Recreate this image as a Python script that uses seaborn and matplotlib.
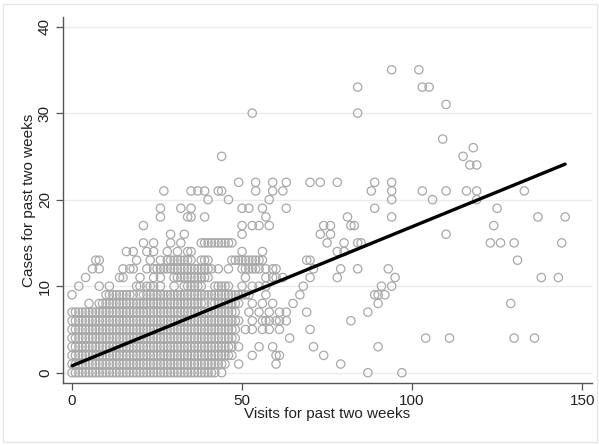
import matplotlib
matplotlib.use("Agg")
import matplotlib.pyplot as plt
import pandas as pd
import seaborn as sns
from matplotlib.patches import Rectangle

visits_c0 = [0,1,2,3,4,5,6,7,8,9,10,11,12,13,14,15,16,17,18,19,20,21,22,23,24,25,26,27,28,29,30,31,32,33,34,35,36,37,38,39,40,41,42,44,87,97]
visits_c1 = [0,1,2,3,4,5,6,7,8,9,10,11,12,13,14,15,16,17,18,19,20,21,22,23,24,25,26,27,28,29,30,31,32,33,34,35,36,37,38,39,40,41,42,43,44,45,49,60,79]
visits_c2 = [0,1,2,3,4,5,6,7,8,9,10,11,12,13,14,15,16,17,18,19,20,21,22,23,24,25,26,27,28,29,30,31,32,33,34,35,36,37,38,39,40,41,42,43,44,45,46,47,53,60,61,74]
visits_c3 = [0,1,2,3,4,5,6,7,8,9,10,11,12,13,14,15,16,17,18,19,20,21,22,23,24,25,26,27,28,29,30,31,32,33,34,35,36,37,38,39,40,41,42,43,44,45,46,47,49,55,59,71,90]
visits_c4 = [0,1,2,3,4,5,6,7,8,9,10,11,12,13,14,15,16,17,18,19,20,21,22,23,24,25,26,27,28,29,30,31,32,33,34,35,36,37,38,39,40,41,42,43,44,45,46,47,48,64,104,111,130,136]
visits_c5 = [0,1,2,3,4,5,6,7,8,9,10,11,12,13,14,15,16,17,18,19,20,21,22,23,24,25,26,27,28,29,30,31,32,33,34,35,36,37,38,39,40,41,42,43,44,45,46,47,48,51,53,56,58,61,70]
visits_c6 = [0,1,2,3,4,5,6,7,8,9,10,11,12,13,14,15,16,17,18,19,20,21,22,23,24,25,26,27,28,29,30,31,32,33,34,35,36,37,38,39,40,41,42,43,44,45,46,47,48,49,53,56,57,58,60,61,63,82]
visits_c7 = [0,1,2,3,4,5,6,7,8,9,10,11,12,13,14,15,16,17,18,19,20,21,22,23,24,25,26,27,28,29,30,31,32,33,34,35,36,37,38,39,40,41,42,43,44,45,46,47,48,52,55,58,61,63,69,87]
visits_c8 = [5,8,9,10,11,12,13,14,15,16,17,18,19,20,21,22,23,24,25,26,27,28,29,30,31,32,33,34,35,36,37,38,39,41,42,43,44,45,46,47,48,49,53,56,59,65,90,129]
visits_c9 = [0,10,11,12,13,14,15,16,17,18,20,21,22,23,24,25,26,27,28,29,30,31,32,33,34,35,36,37,38,39,40,41,42,43,44,45,46,47,48,49,50,51,52,57,67,89,90,92]
visits_c10 = [2,8,11,19,20,22,23,24,26,30,33,34,35,36,37,38,42,43,44,45,46,50,53,55,57,68,91,94]
visits_c11 = [4,14,15,20,24,26,30,31,32,33,34,35,36,37,38,39,40,51,57,59,60,62,70,78,95,138,143]
visits_c12 = [6,8,15,17,18,22,24,25,26,27,28,29,30,31,32,33,34,35,36,37,38,39,40,41,43,46,50,51,52,53,54,55,57,59,60,71,79,84,93]
visits_c13 = [7,8,19,23,26,28,29,30,31,32,33,34,35,38,39,40,47,48,49,50,51,52,53,54,55,56,69,70,131]
visits_c14 = [16,18,22,24,28,31,34,35,50,56,78,80]
visits_c15 = [21,24,29,32,38,39,40,41,42,43,44,45,46,47,75,80,84,85,123,126,130,144]
visits_c16 = [29,33,50,73,76,110]
visits_c17 = [21,50,53,55,58,74,76,82,83,124]
visits_c18 = [26,34,35,39,57,81,94,137,145]
visits_c19 = [26,32,35,50,52,56,63,89,125]
visits_c20 = [40,46,58,94,106,119]
visits_c21 = [27,35,37,39,43,44,54,59,62,88,94,103,110,116,119,133]
visits_c22 = [49,54,59,63,70,73,78,89,94]
visits_c24 = [117,119]
visits_c25 = [44,115]
visits_c26 = [118]
visits_c27 = [109]
visits_c30 = [53,84]
visits_c31 = [110]
visits_c33 = [84,103,105]
visits_c35 = [94,102]

case_levels = [0,1,2,3,4,5,6,7,8,9,10,11,12,13,14,15,16,17,18,19,20,21,22,24,25,26,27,30,31,33,35]
visits_lists = [visits_c0, visits_c1, visits_c2, visits_c3, visits_c4, visits_c5, visits_c6,
                visits_c7, visits_c8, visits_c9, visits_c10, visits_c11, visits_c12, visits_c13,
                visits_c14, visits_c15, visits_c16, visits_c17, visits_c18, visits_c19, visits_c20,
                visits_c21, visits_c22, visits_c24, visits_c25, visits_c26, visits_c27, visits_c30,
                visits_c31, visits_c33, visits_c35]

# fitted line endpoints
fit_visits = [0, 145]
fit_cases = [0.8, 24.1]

xticks = [0, 50, 100, 150]
yticks = [0, 10, 20, 30, 40]

rows = []
for c, vs in zip(case_levels, visits_lists):
    for v in vs:
        rows.append((v, c))
df = pd.DataFrame(rows, columns=["visits", "cases"])
fit_df = pd.DataFrame({"visits": fit_visits, "cases": fit_cases})

sns.set_theme(style="white")
plt.rcParams["font.family"] = ["Liberation Sans", "DejaVu Sans"]

fig = plt.figure(figsize=(5.99, 4.45), dpi=100)
fig.patch.set_facecolor("white")
ax = fig.add_axes([63/599, 1 - 383/445, (592-63)/599, (383-17)/445])

for yv in yticks:
    ax.axhline(yv, color="#e4eef0", lw=1.0, zorder=0)

sns.scatterplot(data=df, x="visits", y="cases", ax=ax, marker="o", s=36,
                facecolors="none", edgecolor="#a8a8a8", linewidth=0.9, zorder=2)
sns.lineplot(data=fit_df, x="visits", y="cases", ax=ax, color="black", lw=2.4, zorder=3)

ax.set_xlim(-2.65, 152.9)
ax.set_ylim(-1.19, 41.1)
ax.set_xticks(xticks)
ax.set_yticks(yticks)
ax.set_yticklabels([str(t) for t in yticks], rotation=90, va="center")
ax.tick_params(axis="both", direction="out", length=5, width=0.9, color="#555555",
               labelsize=11, labelcolor="#222222", pad=3, left=True, bottom=True)
for side in ["top", "right"]:
    ax.spines[side].set_visible(False)
for side in ["left", "bottom"]:
    ax.spines[side].set_color("#555555")
    ax.spines[side].set_linewidth(1.0)

ax.set_xlabel("Visits for past two weeks", fontsize=11, color="#222222", labelpad=-1)
ax.set_ylabel("Cases for past two weeks", fontsize=11, color="#222222", labelpad=1)

fig.patches.append(Rectangle((3/599, 3/445), 594/599, 438/445, transform=fig.transFigure,
                             fill=False, edgecolor="#e6e6e6", lw=1.0))

fig.savefig("out.png", dpi=100)
